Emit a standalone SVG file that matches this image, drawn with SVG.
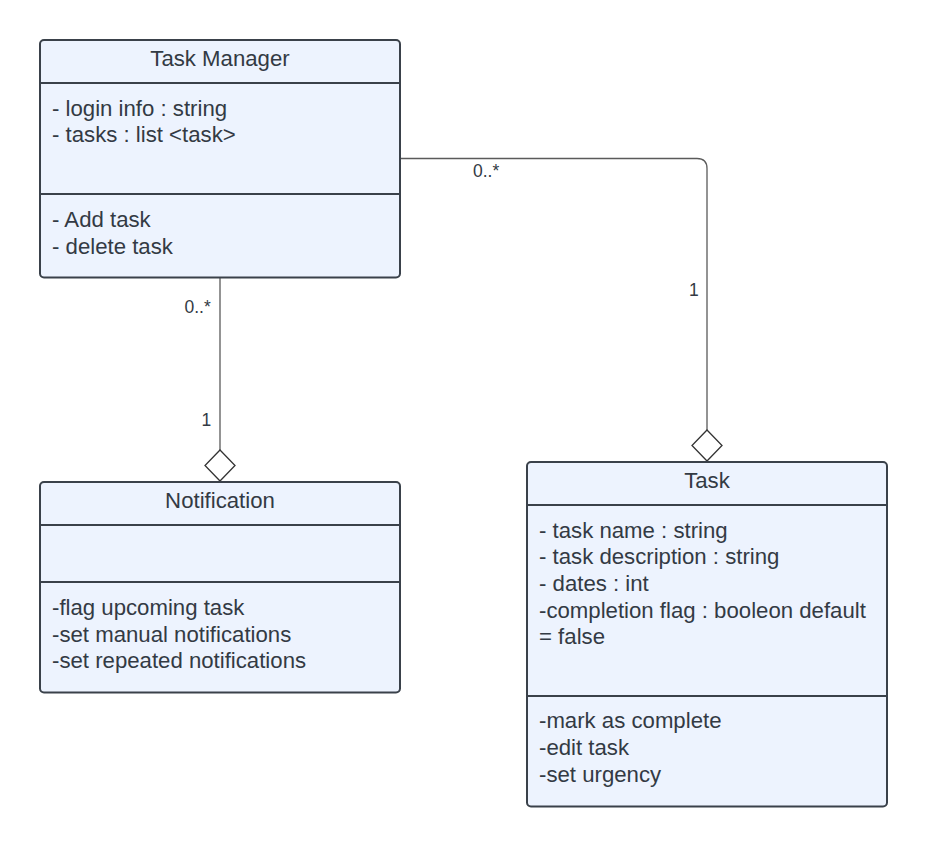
<svg xmlns="http://www.w3.org/2000/svg" width="927" height="847" viewBox="0 0 927 847">
<style>
.box{fill:#edf3fe;stroke:#3a414a;stroke-width:2}
.div{stroke:#3a414a;stroke-width:2;fill:none}
.t{font-family:"Liberation Sans",Arial,sans-serif;font-size:22.2px;fill:#333a44}
.c{text-anchor:middle}
.m{font-family:"Liberation Sans",Arial,sans-serif;font-size:17.5px;fill:#333a44}
.con{stroke:#5a5a5a;stroke-width:1.3;fill:none}
.dia{fill:#ffffff;stroke:#333333;stroke-width:1.3}
</style>
<rect width="927" height="847" fill="#ffffff"/>
<g id="connectors">
<path class="con" d="M401,158.5 H697 Q707,158.5 707,168.5 V430"/>
<polygon class="dia" points="707,430 722,445.5 707,461 692,445.5"/>
<path class="con" d="M220,278 V450"/>
<polygon class="dia" points="220,450 235,465.5 220,481 205,465.5"/>
<text class="m" x="473" y="177">0..*</text>
<text class="m" x="689" y="296">1</text>
<text class="m" x="184.5" y="313">0..*</text>
<text class="m" x="201.5" y="426">1</text>
</g>
<g id="task-manager">
<rect class="box" x="40" y="40" width="360" height="237.5" rx="4"/>
<line class="div" x1="40" y1="83" x2="400" y2="83"/>
<line class="div" x1="40" y1="194" x2="400" y2="194"/>
<text class="t c" x="220" y="66">Task Manager</text>
<text class="t" x="52" y="116">- login info : string</text>
<text class="t" x="52" y="142">- tasks : list &lt;task&gt;</text>
<text class="t" x="52" y="227">- Add task</text>
<text class="t" x="52" y="254">- delete task</text>
</g>
<g id="notification">
<rect class="box" x="40" y="482" width="360" height="210.5" rx="4"/>
<line class="div" x1="40" y1="525" x2="400" y2="525"/>
<line class="div" x1="40" y1="582" x2="400" y2="582"/>
<text class="t c" x="220" y="508">Notification</text>
<text class="t" x="52" y="615">-flag upcoming task</text>
<text class="t" x="52" y="642">-set manual notifications</text>
<text class="t" x="52" y="668">-set repeated notifications</text>
</g>
<g id="task">
<rect class="box" x="527" y="462" width="360" height="344.5" rx="4"/>
<line class="div" x1="527" y1="505" x2="887" y2="505"/>
<line class="div" x1="527" y1="696" x2="887" y2="696"/>
<text class="t c" x="707" y="488">Task</text>
<text class="t" x="539" y="538">- task name : string</text>
<text class="t" x="539" y="564">- task description : string</text>
<text class="t" x="539" y="591">- dates : int</text>
<text class="t" x="539" y="618">-completion flag : booleon default</text>
<text class="t" x="539" y="644">= false</text>
<text class="t" x="539" y="728">-mark as complete</text>
<text class="t" x="539" y="755">-edit task</text>
<text class="t" x="539" y="782">-set urgency</text>
</g>
</svg>
